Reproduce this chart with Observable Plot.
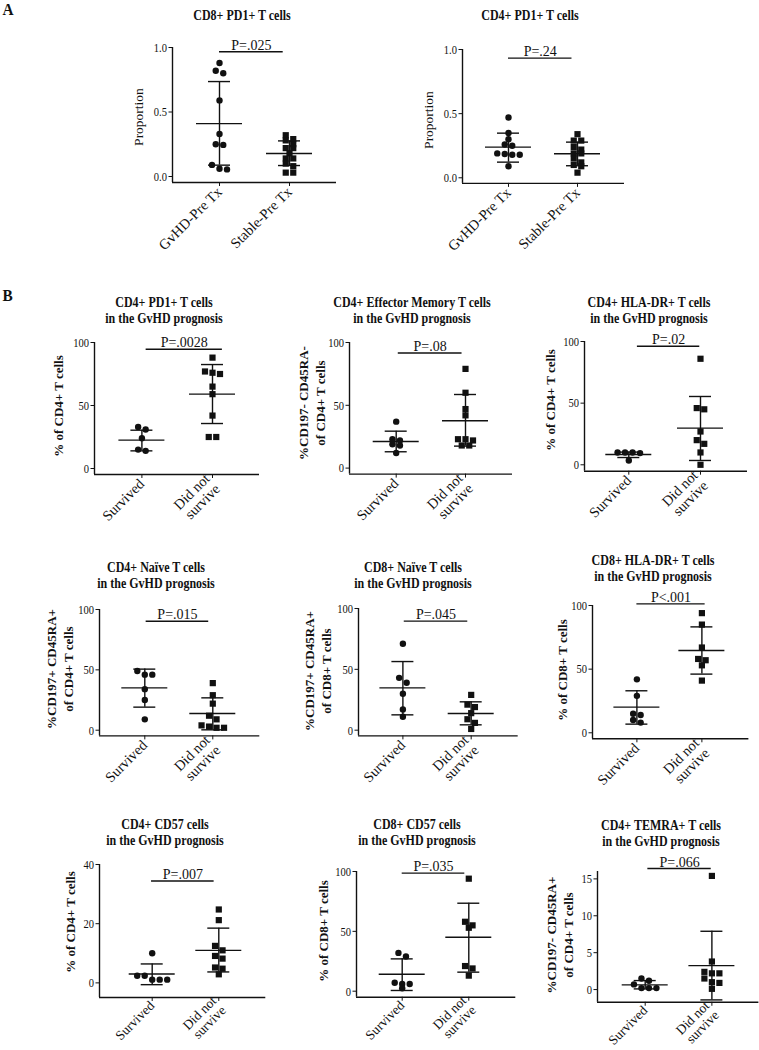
<!DOCTYPE html>
<html><head><meta charset="utf-8">
<script src="https://cdn.jsdelivr.net/npm/d3@7"></script>
<script src="https://cdn.jsdelivr.net/npm/@observablehq/plot@0.6"></script>
<style>
body{margin:0;background:#fff;}
#fig{position:relative;width:759px;height:1050px;overflow:hidden;background:#fff;font-family:"Liberation Serif","Times New Roman",serif;color:#111;}
.t{position:absolute;font-weight:bold;font-size:15px;line-height:16.5px;text-align:center;white-space:pre;transform:translateX(-50%) scaleX(0.8);}
.yl{position:absolute;white-space:pre;text-align:center;line-height:17px;transform:translate(-50%,-50%) rotate(-90deg);}
.panel{position:absolute;font-weight:bold;font-size:17px;transform:scaleX(0.9);}
</style></head><body><div id="fig"></div>
<script>
// ---------- text ----------
const groupsA = ["GvHD-Pre Tx", "Stable-Pre Tx"];
const groupsB = ["Survived", "Did not\nsurvive"];
const titles = [
  "CD8+ PD1+ T cells",
  "CD4+ PD1+ T cells",
  "CD4+ PD1+ T cells\nin the GvHD prognosis",
  "CD4+ Effector Memory T cells\nin the GvHD prognosis",
  "CD4+ HLA-DR+ T cells\nin the GvHD prognosis",
  "CD4+ Naïve T cells\nin the GvHD prognosis",
  "CD8+ Naïve T cells\nin the GvHD prognosis",
  "CD8+ HLA-DR+ T cells\nin the GvHD prognosis",
  "CD4+ CD57 cells\nin the GvHD prognosis",
  "CD8+ CD57 cells\nin the GvHD prognosis",
  "CD4+ TEMRA+ T cells\nin the GvHD prognosis"
];
const yLabels = [
  "Proportion", "Proportion",
  "% of CD4+ T cells",
  "%CD197- CD45RA-\nof CD4+ T cells",
  "% of CD4+ T cells",
  "%CD197+ CD45RA+\nof CD4+ T cells",
  "%CD197+ CD45RA+\nof CD8+ T cells",
  "% of CD8+ T cells",
  "% of CD4+ T cells",
  "% of CD8+ T cells",
  "%CD197- CD45RA+\nof CD4+ T cells"
];
const pTexts = ["P=.025","P=.24","P=.0028","P=.08","P=.02","P=.015","P=.045","P<.001","P=.007","P=.035","P=.066"];
const pBarY  = [0.967, 0.933, 94.7, 91.6, 96.2, 90.3, 89.6, 101.3, 34.4, 98.6, 16.4];
const pStart = [1.0, 1.0, 1.06, 1.03, 1.12, 1.02, 1.02, 1.0, 0.99, 1.0, 1.04];
const pEnd   = [1.91, 1.92, 2.14, 1.95, 1.99, 1.94, 1.95, 2.05, 1.93, 1.94, 1.99];
const yTicks = [[0,0.5,1],[0,0.5,1],[0,50,100],[0,50,100],[0,50,100],[0,50,100],[0,50,100],[0,50,100],[0,20,40],[0,50,100],[0,5,10,15]];
const yTop   = [1, 1, 100, 100, 100, 100, 100, 100, 40, 100, 16];

// ---------- data (group 1 = circles, group 2 = squares); stats = [mean, -SD, +SD] ----------
const A1_g1 = [0.88, 0.82, 0.80, 0.59, 0.33, 0.25, 0.245, 0.09, 0.055, 0.06];
const A1_g2 = [0.32, 0.29, 0.28, 0.25, 0.22, 0.22, 0.18, 0.14, 0.14, 0.10, 0.08, 0.03, 0.03];
const A1_stats = [[0.41, 0.088, 0.736], [0.178, 0.085, 0.276]];

const A2_g1 = [0.47, 0.35, 0.30, 0.26, 0.25, 0.19, 0.18, 0.18, 0.185, 0.09];
const A2_g2 = [0.34, 0.29, 0.29, 0.24, 0.22, 0.19, 0.19, 0.15, 0.12, 0.10, 0.09, 0.04];
const A2_stats = [[0.239, 0.122, 0.348], [0.187, 0.094, 0.278]];

const B1_g1 = [33, 31, 24, 15, 14];
const B1_g2 = [88, 77, 76, 75, 65, 59, 42, 25, 25];
const B1_stats = [[22.5, 14.0, 30.4], [59, 35.7, 82.5]];

const B2_g1 = [37, 23, 22, 19, 18, 12];
const B2_g2 = [79, 60, 47, 42, 23, 23, 22, 18, 18];
const B2_stats = [[21.2, 13.0, 29.4], [37.7, 17.5, 58.6]];

const B3_g1 = [10, 10, 10, 9.5, 3.5];
const B3_g2 = [86, 46, 45, 27, 20, 17, 10, 0];
const B3_stats = [[8.4, 5.9, 10.3], [29.7, 3.5, 55.4]];

const B4_g1 = [49, 46, 46, 34, 25, 9];
const B4_g2 = [39, 29, 22, 12, 9, 4, 3, 2, 2];
const B4_stats = [[35.1, 19.1, 50.6], [13.8, 0.3, 26.8]];

const B5_g1 = [71, 43, 39, 30, 17, 11];
const B5_g2 = [29, 21, 19, 14, 9, 6, 1];
const B5_stats = [[34.8, 12.6, 56.4], [13.7, 4.4, 23.3]];

const B6_g1 = [42, 29, 15, 14, 10, 8];
const B6_g2 = [94, 85, 67, 58, 57, 53, 41];
const B6_stats = [[20.2, 6.8, 33], [64.7, 46.1, 83.2]];

const B7_g1 = [10, 2.4, 2.4, 1.1, 1.1, 1.1];
const B7_g2 = [24.8, 21.2, 12.5, 11, 9.1, 8.2, 5.2, 4.8, 2.9];
const B7_stats = [[3.0, -0.6, 6.4], [11.0, 3.7, 18.5]];

const B8_g1 = [32, 29, 7, 6, 6, 2.5];
const B8_g2 = [94, 58, 55, 53, 21, 19, 13];
const B8_stats = [[14.2, 0.6, 27], [45.1, 15.9, 73.5]];

const B9_g1 = [1.5, 1.2, 0.7, 0.2, 0.2, 0.2];
const B9_g2 = [15.4, 3.8, 2.4, 2.2, 2.2, 1.5, 1.0, 0.9, 0.1];
const B9_stats = [[0.63, 0.09, 1.22], [3.25, -1.4, 7.9]];

const groupValues = [[A1_g1,A1_g2],[A2_g1,A2_g2],[B1_g1,B1_g2],[B2_g1,B2_g2],[B3_g1,B3_g2],[B4_g1,B4_g2],[B5_g1,B5_g2],[B6_g1,B6_g2],[B7_g1,B7_g2],[B8_g1,B8_g2],[B9_g1,B9_g2]];
const groupStats = [A1_stats,A2_stats,B1_stats,B2_stats,B3_stats,B4_stats,B5_stats,B6_stats,B7_stats,B8_stats,B9_stats];

// ---------- layout (pixel geometry of each panel on the page) ----------
const layout = [
  {ax:172.3, c1:219.3, c2:289.3, y0:175.7, k:129,   base:181.7, tx:242,   ty:15,  lx:138,   ly:117},
  {ax:461.7, c1:507.7, c2:576.7, y0:177.7, k:128.3, base:183.3, tx:530,   ty:15,  lx:427.7, ly:120},
  {ax:94.3,  c1:141.7, c2:212.3, y0:468.3, k:1.26,  base:474.3, tx:164,   ty:302, lx:58,    ly:405.8},
  {ax:349,   c1:395.7, c2:465,   y0:467.3, k:1.256, base:473.3, tx:411.7, ty:302, lx:312,   ly:403},
  {ax:584,   c1:628.3, c2:700,   y0:464.3, k:1.233, base:470.7, tx:649,   ty:302, lx:550,   ly:400},
  {ax:99,    c1:144.3, c2:212.3, y0:730,   k:1.207, base:735.7, tx:156,   ty:567, lx:60.3,  ly:669},
  {ax:358.3, c1:402.7, c2:471,   y0:730,   k:1.217, base:735.7, tx:412.5, ty:567, lx:318,   ly:670.7},
  {ax:592.3, c1:636.7, c2:701.7, y0:732.3, k:1.273, base:738.3, tx:652.5, ty:560, lx:561.7, ly:670},
  {ax:99,    c1:151.7, c2:218.3, y0:982.7, k:2.96,  base:997.3, tx:165,   ty:824, lx:70,    ly:922},
  {ax:356,   c1:401.7, c2:468.3, y0:990.7, k:1.197, base:996.7, tx:416.7, ty:824, lx:323.3, ly:930.7},
  {ax:597.3, c1:645,   c2:711.7, y0:989,   k:7.38,  base:1001.7,tx:660.8, ty:825, lx:559.7, ly:935}
];

// simple Prism-like spreading of points that share a row
function swarm(vals, cx, s, k) {
  const sorted = vals.slice().sort((a, b) => b - a);
  const rows = [];
  for (const v of sorted) {
    const r = rows[rows.length - 1];
    if (r && (r.start - v) * k < 5) r.v.push(v); else rows.push({start: v, v: [v]});
  }
  const out = [];
  for (const r of rows) {
    const n = r.v.length;
    r.v.forEach((v, j) => out.push({x: cx + (j - (n - 1) / 2) * 7.5 / s, y: v}));
  }
  return out;
}

const fig = document.getElementById("fig");
function addDiv(cls, text, left, top, extra) {
  const d = document.createElement("div");
  d.className = cls; d.textContent = text;
  d.style.left = left + "px"; d.style.top = top + "px";
  if (extra) Object.assign(d.style, extra);
  fig.appendChild(d);
}
addDiv("panel", "A", 2, 0);
addDiv("panel", "B", 2, 286);

const INK = "#111";
layout.forEach((L, i) => {
  const s = L.c2 - L.c1;
  const xa = 1 - (L.c1 - L.ax) / s;
  const xb = 2 + 47 / s;
  const top = yTop[i];
  const frameTop = L.y0 - top * L.k;
  const ymin = -(L.base - L.y0) / L.k;
  const frameW = (xb - xa) * s;
  const frameH = L.base - frameTop;
  const lastRow = i >= 8;
  const ML = 70, MR = 0, MT = 30;
  const MB = lastRow ? Math.floor(1050 - L.base) : 75;
  const pts1 = swarm(groupValues[i][0], 1, s, L.k);
  const pts2 = swarm(groupValues[i][1], 2, s, L.k);
  const st = groupStats[i].map((d, g) => ({x: g + 1, mean: d[0], lo: d[1], hi: d[2]}));
  const cats = i < 2 ? groupsA : groupsB;
  const svg = Plot.plot({
    width: ML + frameW + MR, height: MT + frameH + MB,
    marginLeft: ML, marginRight: MR, marginTop: MT, marginBottom: MB,
    x: {domain: [xa, xb]},
    y: {domain: [ymin, top]},
    style: {background: "transparent", overflow: "visible", fontFamily: "'Liberation Serif','Times New Roman',serif", fontSize: "12px", color: INK},
    marks: [
      Plot.axisY({ticks: yTicks[i], tickSize: 3.5, tickPadding: 2, tickFormat: i < 2 ? d3.format(".1f") : (d => String(d)), label: null, fontSize: 13.5}),
      Plot.axisX({ticks: [1, 2], tickFormat: d => cats[d - 1], tickSize: 4, tickPadding: lastRow ? 2 : 3, tickRotate: -45, label: null, fontSize: lastRow ? 13.5 : 14.5}),
      Plot.ruleX([xa], {stroke: INK, strokeWidth: 1.4}),
      Plot.ruleY([ymin], {stroke: INK, strokeWidth: 1.4}),
      Plot.ruleX(st, {x: "x", y1: "lo", y2: "hi", stroke: INK, strokeWidth: 1.4}),
      Plot.ruleY(st, {y: "mean", x1: d => d.x - 23 / s, x2: d => d.x + 23 / s, stroke: INK, strokeWidth: 1.4}),
      Plot.ruleY(st, {y: "lo", x1: d => d.x - 11 / s, x2: d => d.x + 11 / s, stroke: INK, strokeWidth: 1.4}),
      Plot.ruleY(st, {y: "hi", x1: d => d.x - 11 / s, x2: d => d.x + 11 / s, stroke: INK, strokeWidth: 1.4}),
      Plot.dot(pts1, {x: "x", y: "y", r: 3.2, fill: INK, symbol: "circle"}),
      Plot.dot(pts2, {x: "x", y: "y", r: 3.5, fill: INK, symbol: "square"}),
      Plot.ruleY([pBarY[i]], {x1: pStart[i], x2: pEnd[i], stroke: INK, strokeWidth: 1.4}),
      Plot.text([pTexts[i]], {x: (pStart[i] + pEnd[i]) / 2, y: pBarY[i], text: d => d, lineAnchor: "bottom", dy: -2, fontSize: 14, fill: INK})
    ]
  });
  // the reference figure is slightly condensed horizontally: narrow the y tick labels
  svg.querySelectorAll('g[aria-label="y-axis tick label"] text').forEach(t => {
    const tr = t.getAttribute("transform");
    if (tr) t.setAttribute("transform", tr + " scale(0.78,1)");
  });
  svg.style.position = "absolute";
  svg.style.left = (L.ax - ML) + "px";
  svg.style.top = (frameTop - MT) + "px";
  fig.appendChild(svg);

  addDiv("t", titles[i], L.tx, L.ty - 8.25);
  addDiv("yl", yLabels[i], L.lx, L.ly, i < 2 ? {fontSize: "13.5px", fontWeight: "normal"} : {fontSize: "13px", fontWeight: "bold"});
});
</script>
</body></html>
